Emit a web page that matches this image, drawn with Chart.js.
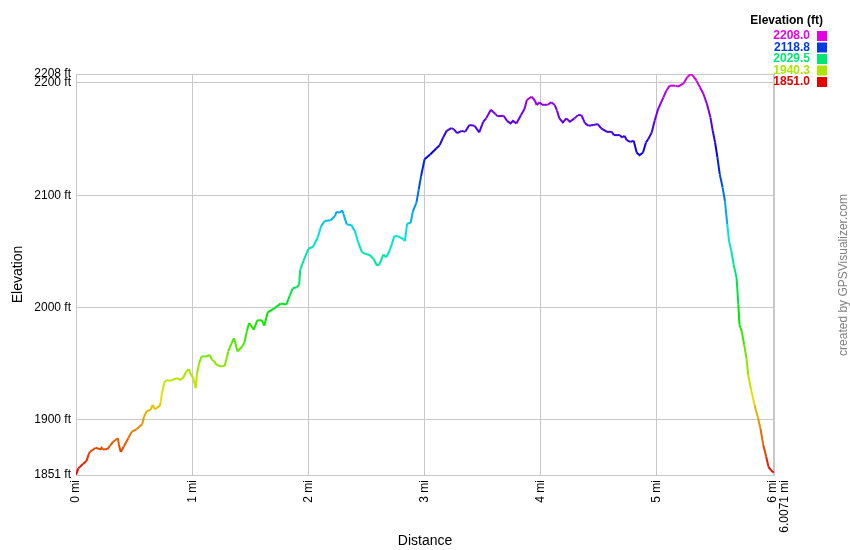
<!DOCTYPE html>
<html><head><meta charset="utf-8">
<script src="https://cdn.jsdelivr.net/npm/chart.js@4/dist/chart.umd.min.js"></script>
<style>html,body{margin:0;padding:0;background:#fff}</style>
</head><body>
<canvas id="c" width="850" height="550"></canvas>
<script>
// Distance along track (mi)
const distanceMi = [
  0, 0.02, 0.06, 0.09, 0.11, 0.12, 0.17, 0.21, 0.22, 0.23,
  0.27, 0.29, 0.32, 0.36, 0.37, 0.385, 0.41, 0.45, 0.48, 0.52,
  0.57, 0.585, 0.61, 0.64, 0.66, 0.68, 0.72, 0.73, 0.74, 0.76,
  0.78, 0.81, 0.87, 0.895, 0.92, 0.95, 0.97, 0.99, 1.01, 1.03,
  1.04, 1.06, 1.08, 1.12, 1.15, 1.17, 1.19, 1.21, 1.25, 1.28,
  1.30, 1.31, 1.34, 1.36, 1.39, 1.43, 1.45, 1.47,
  1.49, 1.53, 1.56, 1.60, 1.62, 1.65, 1.70, 1.76, 1.81, 1.84,
  1.865, 1.90, 1.92, 1.93, 1.96, 2.00, 2.04, 2.08, 2.11, 2.14,
  2.19, 2.23, 2.24, 2.27, 2.29, 2.30, 2.33, 2.37, 2.40, 2.43,
  2.46, 2.49, 2.53, 2.56, 2.59, 2.61, 2.645, 2.67, 2.70, 2.74,
  2.77, 2.82, 2.83, 2.85, 2.88, 2.90, 2.93, 2.95,
  2.97, 3.00, 3.05, 3.10, 3.13, 3.16, 3.19, 3.23, 3.25, 3.28,
  3.32, 3.35, 3.385, 3.43, 3.47, 3.505, 3.53, 3.57, 3.61, 3.63,
  3.68, 3.71, 3.74, 3.76, 3.79, 3.83, 3.86, 3.88, 3.92, 3.95,
  3.965, 3.99, 4.01, 4.06, 4.09, 4.12, 4.14, 4.16, 4.19, 4.22,
  4.25, 4.29, 4.32, 4.35, 4.38, 4.41, 4.45, 4.49, 4.52, 4.57,
  4.61, 4.63, 4.68, 4.70, 4.72, 4.74, 4.77, 4.80, 4.825, 4.85,
  4.88, 4.905,
  4.925, 4.955, 4.98, 5.01, 5.055, 5.08, 5.11, 5.16, 5.18, 5.23,
  5.26, 5.29, 5.31, 5.34, 5.37, 5.40, 5.43, 5.46, 5.48, 5.50,
  5.52, 5.54, 5.565, 5.585, 5.605, 5.62, 5.64, 5.66, 5.685, 5.70,
  5.71, 5.73, 5.75, 5.77, 5.785, 5.81, 5.84, 5.87, 5.89, 5.915,
  5.94, 5.96, 5.98, 6.00, 6.0071
];
// Elevation (ft)
const elevationFt = [
  1851, 1856.9, 1860.7, 1863.4, 1869.6, 1871.7, 1875.3, 1873.8, 1875.3, 1873.8,
  1874.1, 1876.8, 1880.6, 1883.7, 1877.7, 1871.4, 1876.2, 1883.7, 1889.6, 1891.7,
  1896.2, 1902.9, 1908, 1908.9, 1913.4, 1909.5, 1912.5, 1916.3, 1923.8, 1933.3,
  1935.7, 1934.8, 1937.2, 1935.7, 1937.2, 1943.1, 1945.3, 1940.2, 1937.2, 1928.3,
  1940.2, 1950.6, 1956.5, 1956.5, 1958, 1953.6, 1952.1, 1949.1, 1947.6, 1948.2,
  1956.5, 1961, 1968.5, 1972.9, 1961, 1965.4, 1969, 1978.8,
  1986.3, 1980.4, 1988.7, 1988.7, 1983.9, 1995.8, 1998.8, 2003.6, 2002.7, 2010.7,
  2017.2, 2018.1, 2020.5, 2033.9, 2042.2, 2052.4, 2054.2, 2062.2, 2072.6, 2077.1,
  2077.7, 2081.5, 2085.1, 2084.6, 2086.6, 2083.9, 2074.1, 2073.5, 2068.1, 2057.8,
  2049.4, 2047.9, 2046.7, 2043.5, 2037.5, 2038.4, 2047.3, 2044.9, 2050.9, 2063.7,
  2063.7, 2060.7, 2059.2, 2074.7, 2075.6, 2086, 2093.5, 2105.4,
  2117.2, 2132.1, 2136.6, 2141.7, 2144.6, 2151.5, 2157.4, 2159.8, 2158.9, 2155.4,
  2157.4, 2156.5, 2162.5, 2161.9, 2156, 2165.5, 2168.5, 2176.2, 2172.3, 2170.3,
  2170.8, 2166.3, 2164, 2166.3, 2164, 2171.4, 2176.8, 2184.8, 2187.8, 2184.2,
  2180.4, 2182.8, 2180.6, 2180.6, 2182.8, 2180.4, 2175.3, 2168.5, 2164.9, 2168.5,
  2165.5, 2168.5, 2171.4, 2171.4, 2164.3, 2161.9, 2162.5, 2163.4, 2159.6, 2156.5,
  2156.5, 2153.6, 2153.6, 2151.5, 2153, 2149.1, 2147.6, 2148.5, 2138.1, 2135.7,
  2138.1, 2147.1,
  2150, 2156, 2166.3, 2176.8, 2187.2, 2193.1, 2197.6, 2197.6, 2196.7, 2199.7,
  2205.1, 2208, 2206.5, 2202.1, 2196.2, 2190.2, 2181.3, 2169.4, 2157.4, 2147.1,
  2133.7, 2118.8, 2106.9, 2094.9, 2074.1, 2059.2, 2050.3, 2038.4, 2026.5, 2002.7,
  1984.8, 1978.8, 1967, 1955.1, 1940.2, 1926.8, 1913.4, 1901.5, 1892.6, 1877.7,
  1867.2, 1858.3, 1855.4, 1853.3, 1854
];
const xTickValues = [0, 1, 2, 3, 4, 5, 6];
const xMaxMi = 6.0071;
const yTickValues = [1851, 1900, 2000, 2100, 2200, 2208];
const yMinFt = 1851;
const yMaxFt = 2208;
const legendTitle = 'Elevation (ft)';
const legendValues = [2208.0, 2118.8, 2029.5, 1940.3, 1851.0];
const creditText = 'created by GPSVisualizer.com';

const FONT = "'Liberation Sans', Arial, sans-serif";

function elevColor(v) {
  let t = (v - yMinFt) / (yMaxFt - yMinFt);
  t = Math.max(0, Math.min(1, t));
  const hue = 300 * t;
  return 'hsl(' + hue.toFixed(1) + ',100%,45%)';
}

const points = distanceMi.map((d, i) => ({ x: d, y: elevationFt[i] }));

const overlayPlugin = {
  id: 'overlay',
  afterDraw(chart) {
    const ctx = chart.ctx;
    ctx.save();
    // legend
    ctx.fillStyle = '#000';
    ctx.font = 'bold 12px ' + FONT;
    ctx.textAlign = 'right';
    ctx.textBaseline = 'middle';
    ctx.fillText(legendTitle, 823, 21);
    ctx.font = 'bold 12px ' + FONT;
    legendValues.forEach((v, i) => {
      const y = 36 + i * 11.5;
      const c = elevColor(v);
      ctx.fillStyle = c;
      ctx.fillText(v.toFixed(1), 810, y);
      ctx.fillRect(817, y - 5, 10, 10);
    });
    // credit
    ctx.translate(844, 275);
    ctx.rotate(-Math.PI / 2);
    ctx.textAlign = 'center';
    ctx.fillStyle = '#808080';
    ctx.font = '12px ' + FONT;
    ctx.fillText(creditText, 0, 0);
    ctx.restore();
  }
};

new Chart(document.getElementById('c'), {
  type: 'line',
  data: {
    datasets: [{
      data: points,
      borderWidth: 2,
      pointRadius: 0,
      tension: 0,
      fill: false,
      segment: {
        borderColor: (ctx) => elevColor((ctx.p0.parsed.y + ctx.p1.parsed.y) / 2)
      },
      borderColor: elevColor(yMinFt)
    }]
  },
  options: {
    responsive: false,
    animation: false,
    layout: { padding: { left: 0, top: 74, right: 76, bottom: 0 } },
    plugins: { legend: { display: false }, tooltip: { enabled: false } },
    scales: {
      x: {
        type: 'linear',
        min: 0,
        max: xMaxMi,
        afterBuildTicks: (s) => { s.ticks = xTickValues.concat([xMaxMi]).map(v => ({ value: v })); },
        afterFit: (s) => { s.height = 75; },
        ticks: {
          autoSkip: false,
          minRotation: 90,
          maxRotation: 90,
          padding: 5,
          color: '#000',
          font: { family: FONT, size: 12, lineHeight: 0.9 },
          callback: (v) => (v === xMaxMi ? ['', v + ' mi'] : v + ' mi')
        },
        grid: { color: '#c8c8c8', drawTicks: false, lineWidth: 1 },
        border: { color: '#c8c8c8' },
        title: { display: true, text: 'Distance', color: '#000', font: { family: FONT, size: 14 }, padding: { top: 0, bottom: 0 } }
      },
      y: {
        type: 'linear',
        min: yMinFt,
        max: yMaxFt,
        afterBuildTicks: (s) => { s.ticks = yTickValues.map(v => ({ value: v })); },
        afterFit: (s) => { s.width = 76; },
        ticks: {
          autoSkip: false,
          padding: 5,
          color: '#000',
          font: { family: FONT, size: 12 },
          callback: (v) => v + ' ft'
        },
        grid: { color: '#c8c8c8', drawTicks: false, lineWidth: 1 },
        border: { color: '#c8c8c8' },
        title: { display: true, text: 'Elevation', color: '#000', font: { family: FONT, size: 14 }, padding: { top: 10, bottom: 0 } }
      }
    }
  },
  plugins: [overlayPlugin]
});
</script>
</body></html>
